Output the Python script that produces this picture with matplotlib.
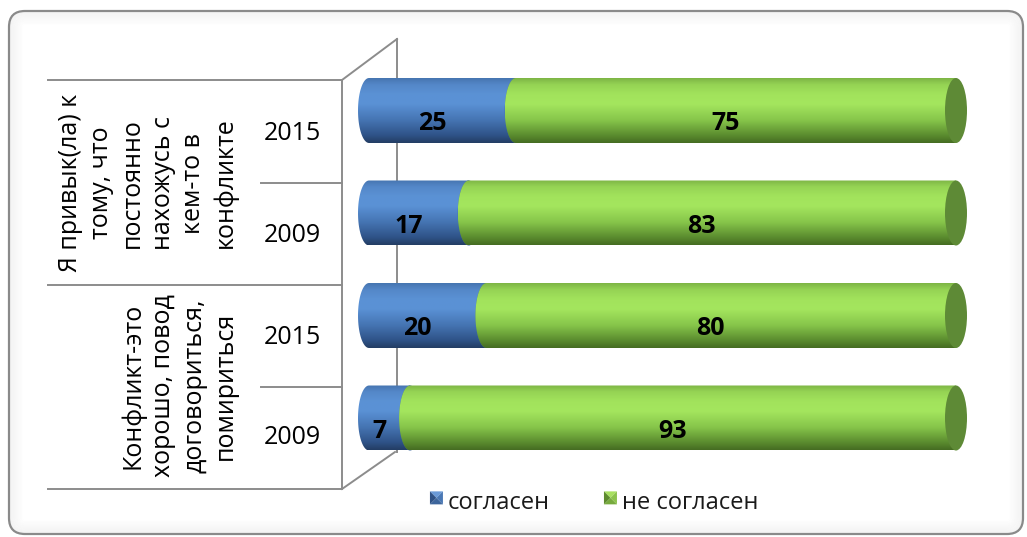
import numpy as np
import matplotlib
matplotlib.use("Agg")
import matplotlib.pyplot as plt
from matplotlib.path import Path
from matplotlib.patches import PathPatch, Ellipse, FancyBboxPatch, Polygon, Patch
from matplotlib.colors import LinearSegmentedColormap
from matplotlib.legend_handler import HandlerBase

plt.rcParams['font.family'] = ['Open Sans', 'DejaVu Sans']

# ---------------- data ----------------
groups = ["Я привык(ла) к\nтому, что\nпостоянно\nнахожусь с\nкем-то в\nконфликте",
          "Конфликт-это\nхорошо, повод\nдоговориться,\nпомириться"]
years = ["2015", "2009", "2015", "2009"]          # top to bottom
agree = [25, 17, 20, 7]                           # согласен
disagree = [75, 83, 80, 93]                       # не согласен
series_names = ["согласен", "не согласен"]

W, H = 1027, 537
fig = plt.figure(figsize=(W / 100, H / 100), dpi=100)

# background axes in pixel coordinates
bg = fig.add_axes([0, 0, 1, 1])
bg.set_xlim(0, W)
bg.set_ylim(H, 0)
bg.axis('off')

# frame with inner shadow
for k in range(1, 14):
    bg.add_patch(FancyBboxPatch((9 + k, 11 + k), 1014 - 2 * k, 523 - 2 * k,
                                boxstyle="round,pad=0,rounding_size=%g" % max(16 - k, 2),
                                fill=False, edgecolor='#7a7a7a', lw=1.2,
                                alpha=0.05 * (14 - k) / 13, zorder=1))
bg.add_patch(FancyBboxPatch((9, 11), 1014, 523, boxstyle="round,pad=0,rounding_size=16",
                            fill=False, edgecolor='#8a8a8a', lw=1.6, zorder=2))

gc = '#8c8c8c'
lw = 1.4
# table lines
bg.plot([48, 342], [80, 80], color=gc, lw=lw)
bg.plot([261, 342], [183, 183], color=gc, lw=lw)
bg.plot([48, 342], [285, 285], color=gc, lw=lw)
bg.plot([261, 342], [387, 387], color=gc, lw=lw)
bg.plot([48, 342], [489, 489], color=gc, lw=lw)
bg.plot([342, 342], [80, 489], color=gc, lw=lw)
# 3D wall
bg.plot([342, 397], [80, 39], color=gc, lw=lw)
bg.plot([397, 397], [39, 452], color=gc, lw=lw)
bg.plot([342, 395], [489, 452], color=gc, lw=lw)

# group labels
bg.text(238, 183, groups[0], rotation=90, ha='right', va='center',
        multialignment='center', fontsize=18, linespacing=1.31, color='black')
bg.text(238, 386, groups[1], rotation=90, ha='right', va='center',
        multialignment='center', fontsize=18, linespacing=1.31, color='black')
for yy, lab in zip([133, 235, 337, 438], years):
    bg.text(292, yy, lab, ha='center', va='center', fontsize=18, color='black')

# ---------------- bars ----------------
x0px, x100px = 369, 956
ppu = (x100px - x0px) / 100.0         # pixels per data unit
xmin, xmax = -6, 106
ytop_c, ybot_c = 110.5, 418
step = (ybot_c - ytop_c) / 3
ax = fig.add_axes([(x0px + xmin * ppu) / W, 1 - (ybot_c + step / 2) / H,
                   (xmax - xmin) * ppu / W, (4 * step) / H])
ax.patch.set_visible(False)
ax.axis('off')

blue_cm = LinearSegmentedColormap.from_list('b', [
    (0.0, '#233d63'), (0.12, '#2f5388'), (0.35, '#4574b2'), (0.6, '#5a91d5'),
    (0.75, '#5b92d5'), (0.9, '#5487c8'), (1.0, '#4675b0')])
green_cm = LinearSegmentedColormap.from_list('g', [
    (0.0, '#456c22'), (0.12, '#5b8c2f'), (0.35, '#86c54a'), (0.6, '#a4e65e'),
    (0.75, '#a2e35c'), (0.9, '#95d354'), (1.0, '#7db545')])
cap_cols = ['#3c67a0', '#5e8a36']
cmaps = [blue_cm, green_cm]

rx = 11 / ppu                         # ellipse half-width in data units
hh = 65 / step / 2                    # half-height in data units
grad = np.linspace(0, 1, 256).reshape(-1, 1) * np.ones((1, 2))

ypos = [3, 2, 1, 0]
z = 2
for i, y in enumerate(ypos):
    segs = [(0, agree[i]), (agree[i], agree[i] + disagree[i])]
    for s, (a, b) in enumerate(segs):
        theta = np.linspace(np.pi / 2, 3 * np.pi / 2, 40)
        ex = a + rx * np.cos(theta)
        ey = y + hh * np.sin(theta)
        verts = [(a, y - hh), (b, y - hh), (b, y + hh)] + list(zip(ex, ey))
        verts.append((a, y - hh))
        codes = [Path.MOVETO] + [Path.LINETO] * (len(verts) - 2) + [Path.CLOSEPOLY]
        body = PathPatch(Path(verts, codes), facecolor='none', edgecolor='none',
                         transform=ax.transData)
        ax.add_patch(body)
        im = ax.imshow(grad, cmap=cmaps[s], origin='lower', aspect='auto',
                       extent=[a - rx, b, y - hh, y + hh], zorder=z,
                       interpolation='bilinear')
        im.set_clip_path(body)
        z += 1
        ax.add_patch(Ellipse((b, y), 2 * rx, 2 * hh, facecolor=cap_cols[s],
                             edgecolor='none', zorder=z))
        z += 1
    ax.text(agree[i] / 2 - 1.8, y - 0.13, str(agree[i]), ha='center', va='center',
            fontsize=18, fontweight='bold', color='black', zorder=50)
    ax.text(agree[i] + disagree[i] / 2 - 1.8, y - 0.13, str(disagree[i]), ha='center',
            va='center', fontsize=18, fontweight='bold', color='black', zorder=50)

ax.set_xlim(xmin, xmax)
ax.set_ylim(-0.5, 3.5)


# ---------------- legend ----------------
class PyramidHandler(HandlerBase):
    def __init__(self, cols):
        super().__init__()
        self.cols = cols

    def create_artists(self, legend, orig_handle, xdescent, ydescent, width,
                       height, fontsize, trans):
        s = min(width, height)
        x0 = -xdescent + (width - s) / 2
        y0 = -ydescent + (height - s) / 2 + 2
        c = (x0 + s / 2, y0 + s / 2)
        tl, tr, br, bl = (x0, y0 + s), (x0 + s, y0 + s), (x0 + s, y0), (x0, y0)
        tri = [[tl, tr, c], [tl, bl, c], [tr, br, c], [bl, br, c]]
        return [Polygon(t, closed=True, facecolor=col, edgecolor='none', transform=trans)
                for t, col in zip(tri, self.cols)]


h1 = Patch(color='#4a78b5')
h2 = Patch(color='#8cc34c')
leg = fig.legend([h1, h2], series_names, loc='center',
                 bbox_to_anchor=(594 / W, 1 - 503 / H), ncol=2, frameon=False,
                 fontsize=17, handlelength=0.55, handleheight=0.55,
                 handletextpad=0.2, columnspacing=2.3,
                 handler_map={h1: PyramidHandler(['#6a9ad8', '#2f5286', '#4a78b5', '#3d659c']),
                              h2: PyramidHandler(['#a8e060', '#5d8a2e', '#8cc34c', '#77aa3d'])})
for t in leg.get_texts():
    t.set_color('#1a1a1a')

fig.savefig('out.png', dpi=100)
